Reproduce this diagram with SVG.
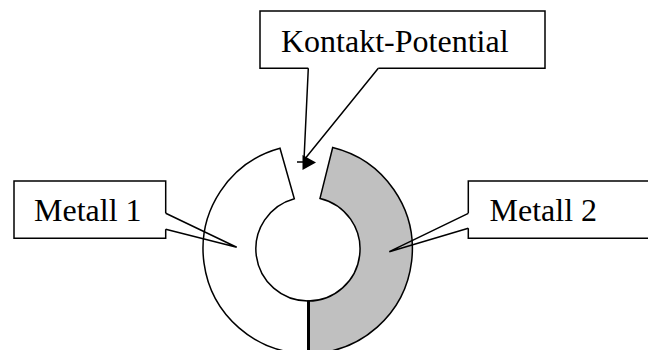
<svg xmlns="http://www.w3.org/2000/svg" width="648" height="350" viewBox="0 0 648 350">
<style>
.ln{fill:none;stroke:#000;stroke-width:1.5;stroke-linejoin:miter}
.seg{stroke:#000;stroke-width:1.5;stroke-linejoin:miter}
.lbl{font-family:"Liberation Serif","Times New Roman",serif;font-size:32px;fill:#000}
</style>
<rect width="648" height="350" fill="#fff"/>
<g id="ring">
<path id="metall1-segment" class="seg" fill="#fff" d="M280,148.2 A104.5,104.5 0 0 0 308,353.5 L308,301 A52,52 0 0 1 294.3,198.8 Z"/>
<path id="metall2-segment" class="seg" fill="#c0c0c0" d="M332.7,147.5 A104.5,104.5 0 0 1 308,353.5 L308,301 A52,52 0 0 0 320,198.4 Z"/>
<line x1="308.5" y1="300.5" x2="308.5" y2="354" stroke="#000" stroke-width="3"/>
</g>
<g id="kontakt-potential">
<rect x="260" y="11" width="285" height="57.3" fill="#fff"/>
<path class="ln" d="M308.3,68.3 H260 V11 H545 V68.3 H378.3"/>
<text class="lbl" x="281" y="51.5">Kontakt-Potential</text>
</g>
<g id="metall-1">
<rect x="14" y="181" width="151.7" height="57.3" fill="#fff"/>
<path class="ln" d="M165.7,213.3 V181 H14 V238.3 H165.7 V229.3"/>
<text class="lbl" x="34" y="221">Metall 1</text>
</g>
<g id="metall-2">
<rect x="468.3" y="181" width="182" height="57.3" fill="#fff"/>
<path class="ln" d="M468.3,213.3 V181 H652 M652,238.3 H468.3 V228.3"/>
<text class="lbl" x="489.5" y="220.7">Metall 2</text>
</g>
<g id="connectors">
<polyline class="ln" points="308.3,68.3 304,160 378.3,68.3"/>
<polygon points="302.5,155 316,162.5 302.5,170" fill="#000"/>
<line class="ln" x1="297" y1="162" x2="303" y2="162"/>
<polyline class="ln" points="165.7,213.3 236.7,247.3 165.7,229.3"/>
<polyline class="ln" points="468.3,213.3 389.3,251.7 468.3,228.3"/>
</g>
</svg>
